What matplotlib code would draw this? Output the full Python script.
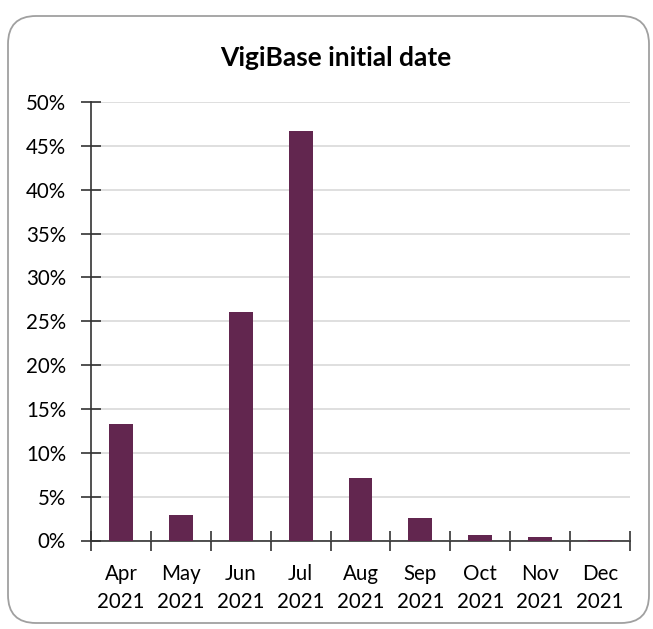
import matplotlib
matplotlib.use("Agg")
import matplotlib.pyplot as plt
from matplotlib.patches import FancyBboxPatch
from matplotlib.ticker import FuncFormatter, FixedLocator
import numpy as np

months = ["Apr", "May", "Jun", "Jul", "Aug", "Sep", "Oct", "Nov", "Dec"]
years = ["2021"] * 9
shares = [0.133, 0.029, 0.260, 0.467, 0.071, 0.026, 0.006, 0.0035, 0.001]
title = "VigiBase initial date"

bar_color = "#62264f"
plt.rcParams["font.family"] = ["Lato", "DejaVu Sans"]

fig = plt.figure(figsize=(6.53, 6.29), dpi=100)

# rounded frame around the whole chart (pixel coords)
frame = FancyBboxPatch((8, 6), 641, 607, boxstyle="round,pad=0,rounding_size=28",
                       transform=None, facecolor="none", edgecolor="#a0a0a0",
                       linewidth=1.3, zorder=0)
fig.patches.append(frame)

ax = fig.add_axes([91 / 653, 1 - 540.5 / 629, 539 / 653, 438.5 / 629])
ax.set_facecolor("none")

x = np.arange(len(months))
ax.bar(x, shares, width=0.4, color=bar_color, zorder=3)

ax.set_xlim(-0.5, len(months) - 0.5)
ax.set_ylim(0, 0.5)
ax.set_yticks(np.arange(0, 0.501, 0.05))
ax.yaxis.set_major_formatter(FuncFormatter(lambda v, p: f"{round(v * 100):d}%"))
ax.grid(axis="y", color="#d9d9d9", linewidth=1.2, zorder=0)

# category labels centred, ticks between categories
ax.xaxis.set_major_locator(FixedLocator(np.arange(-0.5, len(months), 1.0)))
ax.xaxis.set_major_formatter(FuncFormatter(lambda v, p: ""))
ax.xaxis.set_minor_locator(FixedLocator(x))
ax.set_xticklabels([f"{m}\n{y}" for m, y in zip(months, years)], minor=True)
ax.tick_params(axis="x", which="minor", length=0, pad=17, labelsize=14.8)
ax.tick_params(axis="x", which="major", direction="inout", length=14, width=1.2, color="#333333")
ax.tick_params(axis="y", direction="inout", length=14, width=1.2, color="#333333", labelsize=14.8, pad=11)
for lab in ax.get_xticklabels(minor=True):
    lab.set_linespacing(1.5)

for side in ["top", "right"]:
    ax.spines[side].set_visible(False)
ax.spines["left"].set_color("#333333")
ax.spines["bottom"].set_color("#333333")
ax.spines["left"].set_linewidth(1.2)
ax.spines["bottom"].set_linewidth(1.2)

fig.text(336 / 653, 1 - 58 / 629, title, ha="center", va="center",
         fontsize=19, fontweight="bold")

fig.savefig("out.png", dpi=100)
